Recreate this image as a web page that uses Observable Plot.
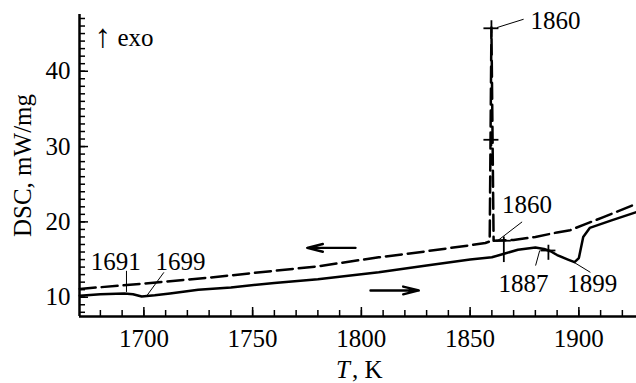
<!DOCTYPE html>
<html><head><meta charset="utf-8">
<script src="https://cdn.jsdelivr.net/npm/d3@7"></script>
<script src="https://cdn.jsdelivr.net/npm/@observablehq/plot@0.6"></script>
<style>
body{margin:0;background:#fff}
#chart svg text{font-family:'Liberation Serif','Times New Roman',serif}
</style>
</head><body><div id="chart"></div>
<script>
// Heating curve (solid)
const heatT   = [1670.5,1680,1691,1695,1699,1705,1712,1725,1740,1760,1780,1808,1830,1850,1860,1866,1872,1880,1884,1887,1890,1895,1898,1900,1902,1905,1915,1926.5];
const heatDSC = [10.2,10.4,10.5,10.4,10.1,10.25,10.5,11.0,11.3,11.9,12.4,13.3,14.2,15.0,15.3,15.8,16.3,16.6,16.4,16.1,15.6,15.0,14.65,15.2,18.0,19.2,20.2,21.3];
// Cooling curve (dashed)
const coolT   = [1670.5,1700,1730,1760,1780,1808,1830,1850,1857,1859.0,1859.8,1860.8,1870,1880,1890,1896,1903,1911,1926.5];
const coolDSC = [11.1,11.8,12.6,13.5,14.1,15.3,16.1,16.9,17.2,17.4,45.8,17.5,17.6,18.0,18.6,18.9,19.7,20.6,22.4];

const xTicks = [1700,1750,1800,1850,1900];
const yTicks = [10,20,30,40];
const xMinor = d3.range(1680,1921,10);
const yMinor = d3.range(8,48,1);

// annotation labels
const labelText = ["1860","1860","1887","1899","1691","1699"];
const labelX = [1889.3,1876.2,1874.5,1906.1,1687.1,1716.8];
const labelY = [46.7,22.2,11.8,11.8,14.7,14.7];
// leader lines
const leadX1 = [1862.4,1873.9,1880.1,1905.3,1692.0,1709.2];
const leadY1 = [45.8,20.0,14.2,13.3,13.5,13.3];
const leadX2 = [1874.6,1862.4,1882.0,1896.8,1692.0,1701.1];
const leadY2 = [46.9,17.45,16.2,14.8,10.7,10.1];
// cross markers
const crossX  = [1859.8,1859.8,1865.5,1886];
const crossY  = [45.7,30.9,17.5,16.2];
const crossLo = [44.5,30.0,14.6,14.9];
const crossHi = [46.7,31.8,18.0,16.9];
// direction arrows
const arrowX1 = [1797.3,1804.2];
const arrowX2 = [1775.1,1826.4];
const arrowY  = [16.55,10.9];

const W = 636, H = 383, ML = 79, MR = 0, MT = 14, MB = 67;
const X0 = 1670.4, X1 = 1926.5, Y0 = 7.44, Y1 = 47.53;
const pxX = (W-ML-MR)/(X1-X0), pxY = (H-MT-MB)/(Y1-Y0);
const hx = p => p/pxX, hy = p => p/pxY;

const heat = heatT.map((t,i)=>({t, v: heatDSC[i]}));
const cool = coolT.map((t,i)=>({t, v: coolDSC[i]}));
const labels = labelText.map((s,i)=>({s, x: labelX[i], y: labelY[i]}));
const leads = leadX1.map((x1,i)=>({x1, y1: leadY1[i], x2: leadX2[i], y2: leadY2[i]}));
const crosses = crossX.map((x,i)=>({x, y: crossY[i], lo: crossLo[i], hi: crossHi[i]}));
const arrows = arrowX1.map((x1,i)=>({x1, x2: arrowX2[i], y: arrowY[i]}));

const font = "'Liberation Serif', 'Times New Roman', serif";
const chart = Plot.plot({
  width: W, height: H, marginLeft: ML, marginRight: MR, marginTop: MT, marginBottom: MB,
  x: {domain: [X0, X1]}, y: {domain: [Y0, Y1]},
  style: {fontFamily: font, fontSize: "25px", background: "#fff", color: "#000"},
  marks: [
    Plot.axisX({ticks: xTicks, tickSize: 0, tickPadding: 13, label: null, tickFormat: d => String(d), fontFamily: font, fontSize: 25}),
    Plot.axisY({ticks: yTicks, tickSize: 0, tickPadding: 9, label: null, tickFormat: d => String(d), fontFamily: font, fontSize: 25}),
    Plot.ruleX(xMinor, {y1: Y0, y2: Y0 + hy(6), strokeWidth: 1.5}),
    Plot.ruleX(xTicks, {y1: Y0, y2: Y0 + hy(9), strokeWidth: 1.5}),
    Plot.ruleY(yMinor, {x1: X0, x2: X0 + hx(6), strokeWidth: 1.5}),
    Plot.ruleY(yTicks, {x1: X0, x2: X0 + hx(9), strokeWidth: 1.5}),
    Plot.ruleX([X0], {strokeWidth: 2.5}),
    Plot.ruleY([Y0], {strokeWidth: 2.5}),
    Plot.line(heat, {x: "t", y: "v", strokeWidth: 2.5}),
    Plot.line(cool, {x: "t", y: "v", strokeWidth: 2.5, strokeDasharray: "16,6"}),
    Plot.ruleY(crosses, {y: "y", x1: d => d.x - hx(7.5), x2: d => d.x + hx(7.5), strokeWidth: 1.8}),
    Plot.ruleX(crosses, {x: "x", y1: "lo", y2: "hi", strokeWidth: 1.8}),
    Plot.link(leads, {x1: "x1", y1: "y1", x2: "x2", y2: "y2", strokeWidth: 1}),
    Plot.arrow(arrows, {x1: "x1", x2: "x2", y1: "y", y2: "y", strokeWidth: 2.4, headLength: 13, headAngle: 28}),
    Plot.text(labels, {x: "x", y: "y", text: "s", fontSize: 25, fontFamily: font}),
    Plot.text(["\u2191"], {x: X0 + hx(15), y: 44.66, textAnchor: "start", fontSize: 33, fontFamily: font}),
    Plot.text(["exo"], {x: X0 + hx(38), y: 44.4, textAnchor: "start", fontSize: 25, fontFamily: font}),
    Plot.text(["DSC, mW/mg"], {frameAnchor: "left", rotate: -90, dx: -57, textAnchor: "middle", lineAnchor: "middle", fontSize: 25, fontFamily: font}),
    Plot.text(["T"], {frameAnchor: "bottom", dy: 53, dx: -8, textAnchor: "end", lineAnchor: "middle", fontStyle: "italic", fontSize: 25, fontFamily: font}),
    Plot.text([", K"], {frameAnchor: "bottom", dy: 53, dx: -6, textAnchor: "start", lineAnchor: "middle", fontSize: 25, fontFamily: font})
  ]
});
document.getElementById("chart").appendChild(chart);
</script>
</body></html>
